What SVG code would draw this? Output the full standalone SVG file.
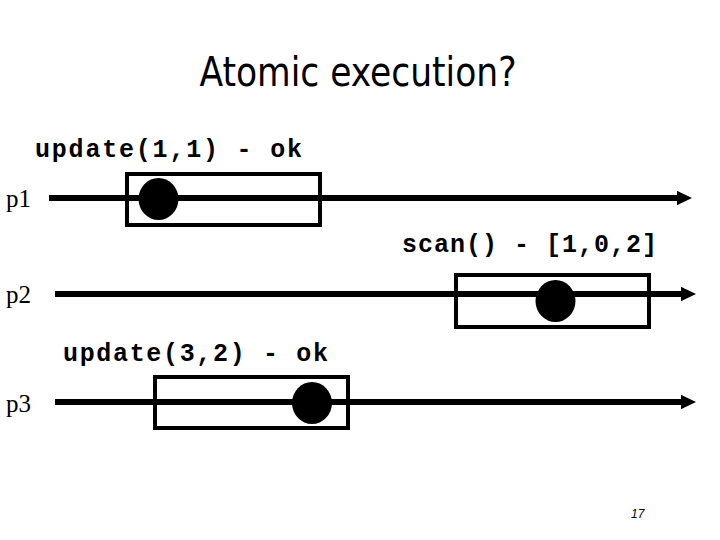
<svg xmlns="http://www.w3.org/2000/svg" width="720" height="540" viewBox="0 0 720 540">
<style>
.line{stroke:#000;stroke-width:6;fill:none}
.box{stroke:#000;stroke-width:4;fill:none}
.dot{fill:#000}
.lbl{font-family:"Liberation Mono","Courier New",monospace;font-weight:bold;font-size:25px;fill:#000}
.proc{font-family:"Liberation Serif","Times New Roman",serif;font-size:25px;fill:#000}
</style>
<defs>
<marker id="arr" viewBox="0 0 10 10" refX="0" refY="5" markerWidth="2.5" markerHeight="2.4" preserveAspectRatio="none" orient="auto" markerUnits="strokeWidth">
<path d="M0,0 L10,5 L0,10 z" fill="#000"/>
</marker>
</defs>
<rect width="720" height="540" fill="#fff"/>
<text x="358" y="86" text-anchor="middle" font-family="'DejaVu Sans Condensed','DejaVu Sans',sans-serif" font-size="40" textLength="317" lengthAdjust="spacingAndGlyphs" fill="#000">Atomic execution?</text>
<g id="connectors">
<line class="line" x1="49" y1="198" x2="677" y2="198" marker-end="url(#arr)"/>
<line class="line" x1="55" y1="294" x2="681" y2="294" marker-end="url(#arr)"/>
<line class="line" x1="55" y1="402" x2="681" y2="402" marker-end="url(#arr)"/>
</g>
<g id="p1">
<text class="proc" x="6" y="207">p1</text>
<rect class="box" x="127" y="174" width="193" height="51"/>
<ellipse class="dot" cx="158.5" cy="199" rx="20" ry="21"/>
<text class="lbl" x="35" y="157" textLength="267" lengthAdjust="spacing">update(1,1) - ok</text>
</g>
<g id="p2">
<text class="proc" x="6" y="303">p2</text>
<rect class="box" x="456" y="275" width="193" height="52"/>
<ellipse class="dot" cx="555.5" cy="301" rx="20" ry="21"/>
<text class="lbl" x="402" y="252" textLength="255" lengthAdjust="spacing">scan() - [1,0,2]</text>
</g>
<g id="p3">
<text class="proc" x="6" y="412">p3</text>
<rect class="box" x="155" y="377" width="193" height="51"/>
<ellipse class="dot" cx="312" cy="403" rx="20" ry="21"/>
<text class="lbl" x="63" y="361" textLength="265" lengthAdjust="spacing">update(3,2) - ok</text>
</g>
<text x="631" y="518" font-family="'Liberation Sans',Arial,sans-serif" font-style="italic" font-size="12" fill="#000">17</text>
</svg>
